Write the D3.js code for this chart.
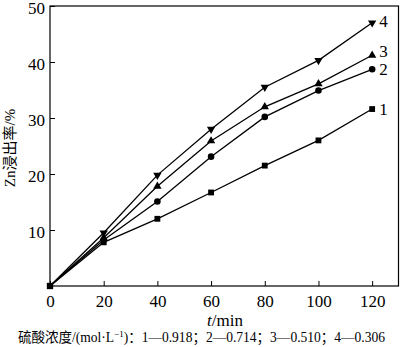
<!DOCTYPE html>
<html><head><meta charset="utf-8">
<script src="https://cdn.jsdelivr.net/npm/d3@7/dist/d3.min.js"></script>
<style>body{margin:0;background:#fff}svg{display:block}</style>
</head><body>
<script>
const times = [0, 20, 40, 60, 80, 100, 120];
const series1 = [0, 7.8, 12.0, 16.7, 21.5, 26.0, 31.6];
const series2 = [0, 8.2, 15.1, 23.1, 30.2, 34.9, 38.7];
const series3 = [0, 8.6, 17.8, 25.9, 32.0, 36.1, 41.2];
const series4 = [0, 9.5, 19.8, 28.0, 35.5, 40.3, 47.0];
const seriesNames = ["1", "2", "3", "4"];
const xTicks = [0, 20, 40, 60, 80, 100, 120];
const yTicks = [10, 20, 30, 40, 50];

const W = 400, H = 347;
const FONT = "Liberation Serif, Noto Sans CJK SC, serif";
const svg = d3.select("body").append("svg").attr("width", W).attr("height", H);
const x = d3.scaleLinear().domain([0, 130]).range([50, 399]);
const y = d3.scaleLinear().domain([0, 50]).range([286, 6]);

svg.append("rect").attr("x", 50).attr("y", 6).attr("width", 348.5).attr("height", 280)
  .attr("fill", "none").attr("stroke", "#000").attr("stroke-width", 1.2);

const xAxis = svg.append("g").attr("transform", "translate(0,286)")
  .call(d3.axisBottom(x).tickValues(xTicks).tickSizeInner(-5).tickSizeOuter(0).tickPadding(9));
const yAxis = svg.append("g").attr("transform", "translate(50,0)")
  .call(d3.axisLeft(y).tickValues(yTicks).tickSizeInner(-5).tickSizeOuter(0).tickPadding(5));
[xAxis, yAxis].forEach(a => {
  a.attr("font-family", null).attr("font-size", null);
  a.select(".domain").remove();
  a.selectAll("line").attr("stroke", "#000").attr("stroke-width", 1);
  a.selectAll("text").style("font-family", FONT).style("font-size", "17px").attr("fill", "#000");
});
yAxis.selectAll("text").attr("dy", "0.42em");

const all = [series1, series2, series3, series4];
const line = d3.line().x((d, i) => x(times[i])).y(d => y(d));
all.forEach(s => {
  svg.append("path").datum(s).attr("d", line).attr("fill", "none")
    .attr("stroke", "#000").attr("stroke-width", 1.3);
});

const symbols = [
  d3.symbol().type(d3.symbolSquare).size(34),
  d3.symbol().type(d3.symbolCircle).size(34),
  d3.symbol().type(d3.symbolTriangle).size(30),
  d3.symbol().type(d3.symbolTriangle).size(30)
];
all.forEach((s, k) => {
  svg.append("g").selectAll("path").data(s.slice(1)).join("path")
    .attr("d", symbols[k])
    .attr("transform", (d, i) => `translate(${x(times[i + 1])},${y(d)})${k === 3 ? " rotate(180)" : ""}`)
    .attr("fill", "#000");
});
svg.append("path").attr("d", d3.symbol().type(d3.symbolSquare).size(40))
  .attr("transform", `translate(${x(0)},${y(0)})`).attr("fill", "#000");

const labelDy = [0, 0, -4, -2];
all.forEach((s, k) => {
  svg.append("text").attr("x", x(120) + 7).attr("y", y(s[6]) + labelDy[k])
    .attr("dy", "0.35em").style("font-family", FONT).style("font-size", "17px").text(seriesNames[k]);
});

const xt = svg.append("text").attr("x", 225).attr("y", 326).attr("text-anchor", "middle")
  .style("font-family", FONT).style("font-size", "17px");
xt.append("tspan").style("font-style", "italic").text("t");
xt.append("tspan").text("/min");

svg.append("text").attr("transform", "translate(15,148) rotate(-90)").attr("text-anchor", "middle")
  .style("font-family", FONT).style("font-size", "15px").text("Zn浸出率/%");

let fs = 13;
const fn = svg.append("text").attr("x", 18).attr("y", 342).style("font-family", FONT).style("font-size", fs + "px");
fn.append("tspan").text("硫酸浓度/(mol·L");
fn.append("tspan").attr("dy", -5).style("font-size", "9px").text("−1");
fn.append("tspan").attr("dy", 5).text(")：1—0.918；2—0.714；3—0.510；4—0.306");
const wlen = fn.node().getComputedTextLength();
if (wlen > 0) fn.style("font-size", (fs * 368 / wlen) + "px");
</script>
</body></html>
